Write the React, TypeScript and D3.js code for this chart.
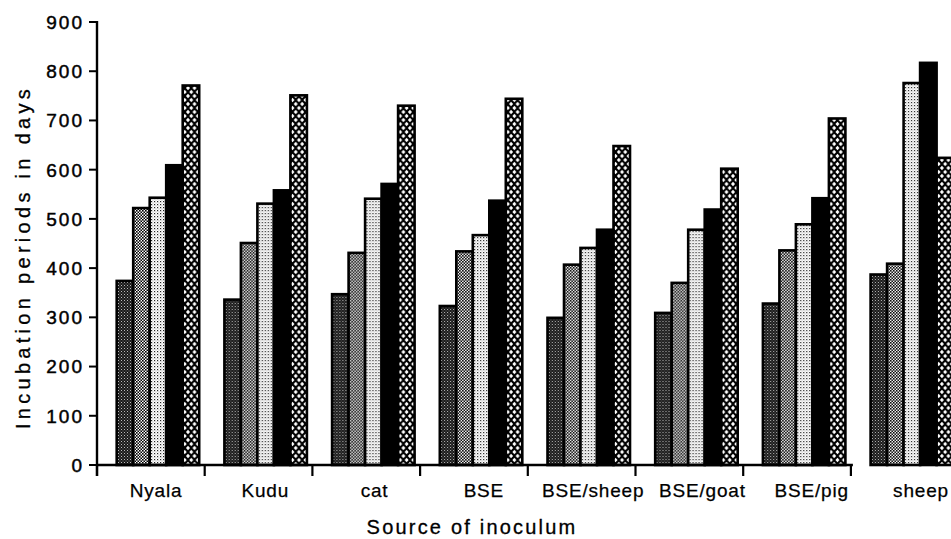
import React from "react";
import * as d3 from "d3";

const categories = ["Nyala", "Kudu", "cat", "BSE", "BSE/sheep", "BSE/goat", "BSE/pig", "sheep"];
const seriesKeys = ["s1", "s2", "s3", "s4", "s5"];
const s1 = [374, 336, 347, 323, 299, 309, 328, 387];
const s2 = [522, 451, 431, 434, 407, 370, 436, 409];
const s3 = [543, 531, 541, 467, 441, 478, 489, 776];
const s4 = [609, 558, 571, 537, 478, 519, 542, 817];
const s5 = [771, 751, 730, 744, 648, 602, 704, 624];
const seriesValues = [s1, s2, s3, s4, s5];
const yTicks = [0, 100, 200, 300, 400, 500, 600, 700, 800, 900];
const yTitle = "Incubation periods in days";
const xTitle = "Source of inoculum";

const W = 951;
const H = 539;
const FONT = "'Liberation Sans', Arial, Helvetica, sans-serif";

const fills = ["url(#pDark)", "url(#pMed)", "url(#pLight)", "#000", "url(#pCross)"];

export default function App() {
  const x0 = 97;
  const step = 107.7;
  const x = d3
    .scaleBand<string>()
    .domain(categories)
    .range([x0, x0 + step * categories.length])
    .paddingInner(0)
    .paddingOuter(0);
  const xInner = d3.scaleBand<string>().domain(seriesKeys).range([19.7, 102.2]).padding(0);
  const xLabel = d3.scalePoint<string>().domain(categories).range([156, 921]);
  const y = d3.scaleLinear().domain([0, 900]).range([465, 22]);

  const axisEnd = x(categories[categories.length - 1]) as number;

  return (
    <svg
      width={W}
      height={H}
      style={{ position: "absolute", left: 0, top: 0, background: "#fff" }}
      fontFamily={FONT}
    >
      <defs>
        <pattern id="pDark" width="3" height="3" patternUnits="userSpaceOnUse">
          <rect width="3" height="3" fill="#1a1a1a" />
          <rect x="0" y="0" width="1" height="1" fill="#bbb" />
          <rect x="1.5" y="1.5" width="1" height="1" fill="#777" />
        </pattern>
        <pattern id="pMed" width="3" height="3" patternUnits="userSpaceOnUse">
          <rect width="3" height="3" fill="#fff" />
          <rect x="0" y="0" width="1.6" height="1.6" fill="#000" />
          <rect x="1.5" y="1.5" width="1.6" height="1.6" fill="#000" />
        </pattern>
        <pattern id="pLight" width="3" height="3" patternUnits="userSpaceOnUse">
          <rect width="3" height="3" fill="#fff" />
          <rect x="0" y="0" width="1.2" height="1.2" fill="#222" />
          <rect x="1.5" y="1.5" width="1" height="1" fill="#999" />
        </pattern>
        <pattern id="pCross" width="6.5" height="8" patternUnits="userSpaceOnUse">
          <rect width="6.5" height="8" fill="#000" />
          <path d="M3.25,1.8 L5.2,4 L3.25,6.2 L1.3,4 Z" fill="#fff" />
          <path
            d="M0,-2.2 L1.95,0 L0,2.2 L-1.95,0 Z M6.5,-2.2 L8.45,0 L6.5,2.2 L4.55,0 Z M0,5.8 L1.95,8 L0,10.2 L-1.95,8 Z M6.5,5.8 L8.45,8 L6.5,10.2 L4.55,8 Z"
            fill="#fff"
          />
        </pattern>
      </defs>

      {/* bars */}
      {categories.map((c, ci) => (
        <g key={c} transform={`translate(${x(c)},0)`}>
          {seriesKeys.map((k, si) => {
            const v = seriesValues[si][ci];
            return (
              <rect
                key={k}
                x={xInner(k)}
                y={y(v)}
                width={xInner.bandwidth()}
                height={y(0) - y(v)}
                fill={fills[si]}
                stroke="#000"
                strokeWidth={2.6}
              />
            );
          })}
        </g>
      ))}

      {/* y axis */}
      <line x1={x0} x2={x0} y1={y(900) - 1} y2={476} stroke="#000" strokeWidth={2.4} />
      {yTicks.map((t) => (
        <g key={t}>
          <line x1={x0 - 8} x2={x0} y1={y(t)} y2={y(t)} stroke="#000" strokeWidth={2} />
          <text
            x={84}
            y={y(t)}
            dy="0.36em"
            textAnchor="end"
            fontSize={19}
            letterSpacing={2}
            fill="#000"
            stroke="#000"
            strokeWidth={0.45}
          >
            {t}
          </text>
        </g>
      ))}

      {/* x axis */}
      <line x1={x0} x2={axisEnd + 2} y1={y(0)} y2={y(0)} stroke="#000" strokeWidth={2.4} />
      {categories.map((c) => (
        <line
          key={"t" + c}
          x1={x(c) as number}
          x2={x(c) as number}
          y1={y(0)}
          y2={476}
          stroke="#000"
          strokeWidth={2.2}
        />
      ))}
      {categories.map((c) => (
        <text
          key={"l" + c}
          x={xLabel(c)}
          y={497}
          textAnchor="middle"
          fontSize={19}
          letterSpacing={0.8}
          fill="#000"
          stroke="#000"
          strokeWidth={0.25}
        >
          {c}
        </text>
      ))}

      {/* titles */}
      <text
        transform={`translate(30,${257}) rotate(-90)`}
        textAnchor="middle"
        fontSize={20}
        letterSpacing={4.3}
        fill="#000"
        stroke="#000"
        strokeWidth={0.3}
      >
        {yTitle}
      </text>
      <text
        x={472}
        y={534}
        textAnchor="middle"
        fontSize={20}
        letterSpacing={2.2}
        fill="#000"
        stroke="#000"
        strokeWidth={0.3}
      >
        {xTitle}
      </text>
    </svg>
  );
}
